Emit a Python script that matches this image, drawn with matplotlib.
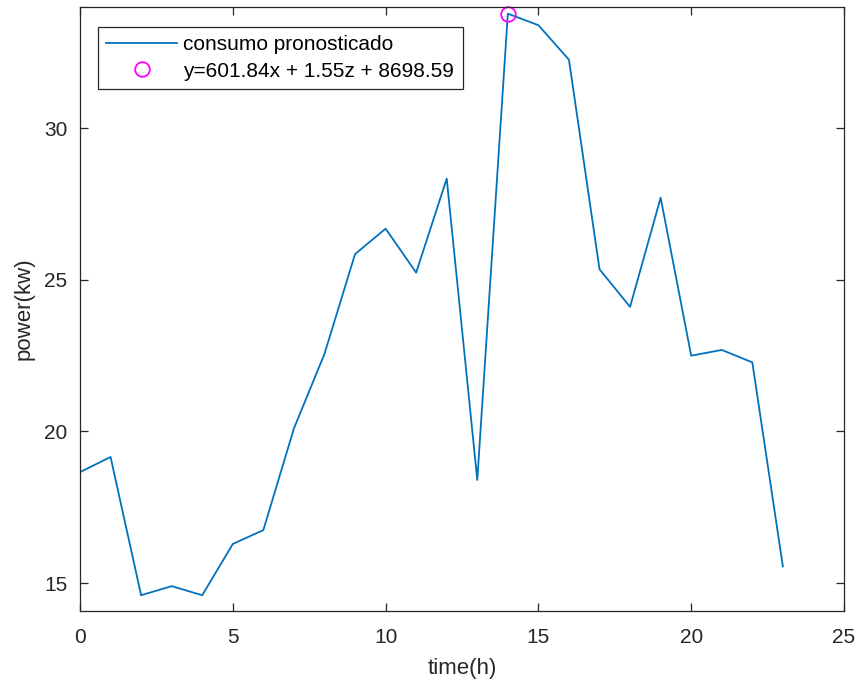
import matplotlib
matplotlib.use("Agg")
import matplotlib.pyplot as plt

plt.rcParams['font.family'] = ['Liberation Sans', 'DejaVu Sans']

hours = list(range(24))
power = [18.66, 19.16, 14.6, 14.9, 14.6, 16.29, 16.75, 20.1, 22.56, 25.85,
         26.69, 25.24, 28.34, 18.4, 33.78, 33.4, 32.26, 25.35, 24.11, 27.71,
         22.5, 22.69, 22.28, 15.55]
peak_x = [14]
peak_y = [33.78]
line_label = 'consumo pronosticado'
peak_label = 'y=601.84x + 1.55z + 8698.59'
xticks = [0, 5, 10, 15, 20, 25]
yticks = [15, 20, 25, 30]

fig = plt.figure(figsize=(8.62, 6.87), dpi=100)
ax = fig.add_axes([80/862, 1-611/687, 764/862, 604/687])

ax.plot(hours, power, color='#0072BD', lw=1.3, label=line_label)
ax.plot(peak_x, peak_y, 'o', mfc='none', mec='#FF00FF', ms=10.5, mew=1.3,
        label=peak_label, clip_on=False)

ax.set_xlim(0, 25)
ax.set_ylim(14.08, 34.0)
ax.set_xticks(xticks)
ax.set_yticks(yticks)
ax.tick_params(direction='in', top=True, right=True, length=6, width=0.9,
               colors='#262626', labelsize=15)
ax.tick_params(axis='x', pad=12)
ax.tick_params(axis='y', pad=9)
for s in ax.spines.values():
    s.set_color('#262626')
    s.set_linewidth(0.9)

ax.set_xlabel('time(h)', fontsize=16, color='#262626', labelpad=8)
ax.set_ylabel('power(kw)', fontsize=16, color='#262626', labelpad=7)

leg = ax.legend(loc='upper left', bbox_to_anchor=(18/764, 1-20/604),
                borderaxespad=0, fancybox=False, edgecolor='#262626',
                fontsize=15, handlelength=3.4, handletextpad=0.3,
                borderpad=0.4, labelspacing=0.35, framealpha=1)
leg.get_frame().set_linewidth(0.9)

fig.savefig('out.png', dpi=100)
